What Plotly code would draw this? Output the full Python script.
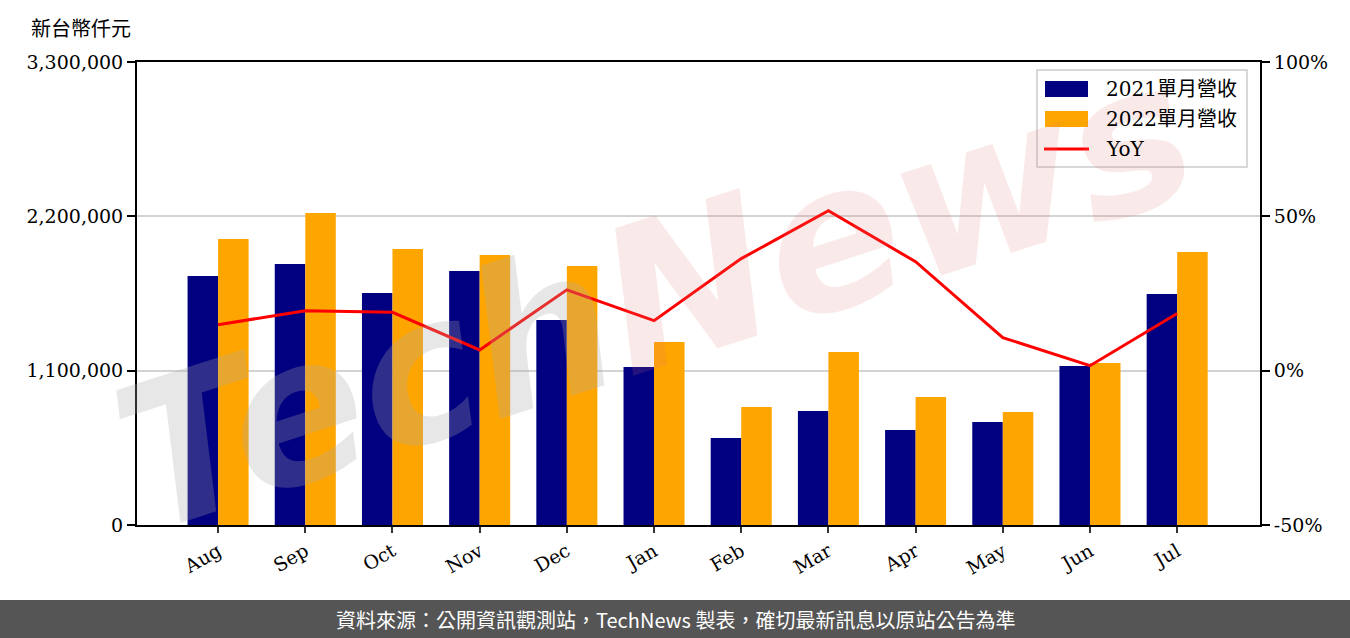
import plotly.graph_objects as go

months = ["Aug", "Sep", "Oct", "Nov", "Dec", "Jan", "Feb", "Mar", "Apr", "May", "Jun", "Jul"]
rev_2021 = [1775000, 1860000, 1654000, 1810000, 1461000, 1126000, 620000, 813000, 677000, 734000, 1133000, 1646000]
rev_2022 = [2038000, 2224000, 1967000, 1924000, 1846000, 1304000, 841000, 1233000, 912000, 805000, 1155000, 1946000]
yoy = [14.9, 19.4, 18.9, 6.7, 26.2, 16.2, 36.3, 51.8, 35.3, 10.7, 1.6, 18.5]

left_ticks = [0, 1100000, 2200000, 3300000]
left_labels = ["0", "1,100,000", "2,200,000", "3,300,000"]
right_ticks = [-50, 0, 50, 100]
right_labels = ["-50%", "0%", "50%", "100%"]

names = ["2021單月營收", "2022單月營收", "YoY"]
colors = ["#000080", "#FFA500", "#FF0000"]

serif = "DejaVu Serif, Noto Sans CJK TC, serif"
x = list(range(len(months)))

W, H = 1350, 638
L, R, T, B = 137, 90, 62, 113
PW, PH = W - L - R, H - T - B


def px(v):
    return (v - L) / PW


def py(v):
    return (H - B - v) / PH


fig = go.Figure()
fig.add_trace(go.Bar(x=x, y=rev_2021, name=names[0], marker=dict(color=colors[0], line=dict(width=0))))
fig.add_trace(go.Bar(x=x, y=rev_2022, name=names[1], marker=dict(color=colors[1], line=dict(width=0))))
fig.add_trace(go.Scatter(x=x, y=yoy, name=names[2], mode="lines",
                         line=dict(color=colors[2], width=3), yaxis="y2"))

fig.update_layout(
    width=W, height=H,
    margin=dict(l=L, r=R, t=T, b=B),
    paper_bgcolor="white", plot_bgcolor="white",
    barmode="group", bargap=0.3, bargroupgap=0,
    font=dict(family=serif, size=18, color="black"),
    showlegend=False,
    xaxis=dict(tickmode="array", tickvals=x, ticktext=months, range=[-0.93, 11.95],
               tickangle=-30, ticks="outside", ticklen=6, tickwidth=2, tickcolor="#333",
               showline=True, linecolor="black", linewidth=2, mirror=True,
               showgrid=False, zeroline=False, tickfont=dict(family=serif, size=19)),
    yaxis=dict(range=[0, 3300000], tickmode="array", tickvals=left_ticks, ticktext=left_labels,
               ticks="outside", ticklen=8, tickwidth=2, tickcolor="black",
               showline=True, linecolor="black", linewidth=2,
               showgrid=True, gridcolor="#d3d3d3", gridwidth=2, zeroline=False,
               tickfont=dict(family=serif, size=19)),
    yaxis2=dict(range=[-50, 100], overlaying="y", side="right", tickmode="array",
                tickvals=right_ticks, ticktext=right_labels,
                ticks="outside", ticklen=8, tickwidth=2, tickcolor="black",
                showline=True, linecolor="black", linewidth=2,
                showgrid=False, zeroline=False, tickfont=dict(family=serif, size=19)),
)

# unit label
fig.add_annotation(text="新台幣仟元", xref="paper", yref="paper", x=px(29), y=py(27),
                   xanchor="left", yanchor="middle", showarrow=False,
                   font=dict(family="Noto Sans CJK TC", size=20, color="black"))

# watermark
fig.add_annotation(
    text="<i><b><span style='color:rgba(170,170,170,0.28)'>Tech</span>"
         "<span style='color:rgba(225,120,120,0.16)'>News</span></b></i>",
    xref="paper", yref="paper", x=px(655), y=py(295), showarrow=False, textangle=-18,
    font=dict(family="DejaVu Sans", size=200))

# manual legend
fig.add_shape(type="rect", xref="paper", yref="paper", x0=px(1037), x1=px(1247),
              y0=py(167), y1=py(70), fillcolor="rgba(255,255,255,0.85)",
              line=dict(color="#cccccc", width=1.5), layer="above")
leg_y = [89, 119, 149]
for i in range(2):
    fig.add_shape(type="rect", xref="paper", yref="paper", x0=px(1045), x1=px(1088),
                  y0=py(leg_y[i] + 8), y1=py(leg_y[i] - 8), fillcolor=colors[i],
                  line=dict(width=0), layer="above")
fig.add_shape(type="line", xref="paper", yref="paper", x0=px(1044), x1=px(1089),
              y0=py(leg_y[2]), y1=py(leg_y[2]), line=dict(color=colors[2], width=3), layer="above")
for i in range(3):
    fig.add_annotation(text=names[i], xref="paper", yref="paper", x=px(1104), y=py(leg_y[i]),
                       xanchor="left", yanchor="middle", showarrow=False,
                       font=dict(family=serif, size=20, color="black"))

# footer bar
fig.add_shape(type="rect", xref="paper", yref="paper", x0=px(-5), x1=px(W + 5),
              y0=py(H + 5), y1=py(600),
              fillcolor="#555555", line=dict(width=0), layer="above")
fig.add_annotation(text="資料來源：公開資訊觀測站，TechNews 製表，確切最新訊息以原站公告為準",
                   xref="paper", yref="paper", x=px(675), y=py(619),
                   xanchor="center", yanchor="middle", showarrow=False,
                   font=dict(family="Noto Sans CJK TC", size=20, color="white"))

fig.write_html("out.html", config={"displayModeBar": False},
               post_script="document.body.style.margin='0';document.body.style.overflow='hidden';")
